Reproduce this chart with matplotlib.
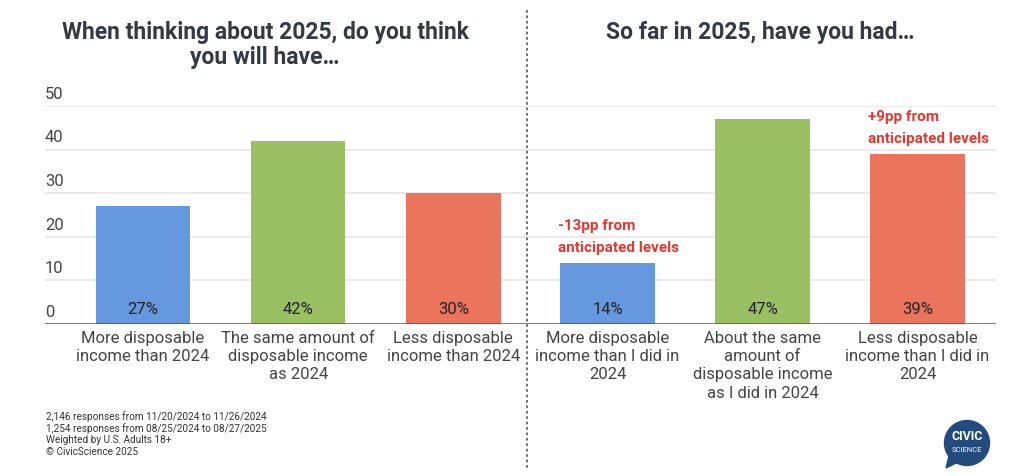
import numpy as np
import matplotlib
matplotlib.use("Agg")
import matplotlib.pyplot as plt
from matplotlib.lines import Line2D
from matplotlib.patches import Circle, Polygon
import matplotlib.transforms as mtransforms

plt.rcParams["font.family"] = ["Roboto", "DejaVu Sans"]

# Data
left_title = "When thinking about 2025, do you think\nyou will have…"
right_title = "So far in 2025, have you had…"
left_categories = ["More disposable\nincome than 2024",
                   "The same amount of\ndisposable income\nas 2024",
                   "Less disposable\nincome than 2024"]
right_categories = ["More disposable\nincome than I did in\n2024",
                    "About the same\namount of\ndisposable income\nas I did in 2024",
                    "Less disposable\nincome than I did in\n2024"]
left_values = [27, 42, 30]
right_values = [14, 47, 39]
annotate_idx = [0, 2]  # bars that get the "from anticipated levels" note
y_ticks = [0, 10, 20, 30, 40, 50]
footnotes = ["2,146 responses from 11/20/2024 to 11/26/2024",
             "1,254 responses from 08/25/2024 to 08/27/2025",
             "Weighted by U.S. Adults 18+",
             "© CivicScience 2025"]

BAR_COLORS = ["#6598df", "#9bc063", "#eb755c"]
TITLE_COLOR = "#333a45"
TEXT_COLOR = "#444444"
NOTE_COLOR = "#e8352e"
GRID_COLOR = "#e6e6e6"
BAR_WIDTH = 0.61

fig = plt.figure(figsize=(10.24, 4.76), dpi=100)
ax_l = fig.add_axes([45 / 1024, 1 - 324 / 476, 475 / 1024, 218 / 476])
ax_r = fig.add_axes([520 / 1024, 1 - 324 / 476, 476 / 1024, 218 / 476])


def draw_panel(ax, cats, values, xlim, show_yticks):
    x = np.arange(len(cats))
    ax.bar(x, values, width=BAR_WIDTH, color=BAR_COLORS, zorder=2)
    ax.set_xlim(*xlim)
    ax.set_ylim(0, 50)
    for t in y_ticks[1:]:
        ax.axhline(t, color=GRID_COLOR, linewidth=1.2, zorder=1)
    ax.axhline(0, color="#555555", linewidth=1.8, zorder=3)
    for s in ax.spines.values():
        s.set_visible(False)
    ax.set_yticks([])
    ax.set_xticks(x)
    ax.set_xticklabels(cats, fontsize=12, color=TEXT_COLOR, linespacing=1.27)
    ax.tick_params(axis="x", length=0, pad=5)
    for xi, v in zip(x, values):
        ax.annotate(f"{v}%", xy=(xi, 0), xytext=(0, 5), textcoords="offset points",
                    ha="center", va="bottom", fontsize=12, color="#222222", zorder=4)
    if show_yticks:
        trans = mtransforms.blended_transform_factory(ax.transAxes, ax.transData)
        for t in y_ticks:
            ax.annotate(str(t), xy=(0, t), xycoords=trans, xytext=(0, 3),
                        textcoords="offset points", ha="left", va="bottom",
                        fontsize=12, color=TEXT_COLOR)


draw_panel(ax_l, left_categories, left_values, (-0.632, 2.43), True)
draw_panel(ax_r, right_categories, right_values, (-0.565, 2.506), False)

# change vs anticipated levels
for i in annotate_idx:
    diff = right_values[i] - left_values[i]
    ax_r.annotate(f"{diff:+d}pp from\nanticipated levels",
                  xy=(i - BAR_WIDTH / 2, right_values[i]), xytext=(-2, 6),
                  textcoords="offset points", ha="left", va="bottom",
                  fontsize=11, fontweight="bold", color=NOTE_COLOR, linespacing=1.65)

fig.text(265 / 1024, 1 - 45 / 476, left_title, ha="center", va="center",
         fontsize=16.5, fontweight="bold", color=TITLE_COLOR, linespacing=1.15)
fig.text(760 / 1024, 1 - 32 / 476, right_title, ha="center", va="center",
         fontsize=16.5, fontweight="bold", color=TITLE_COLOR)

# dotted divider
fig.add_artist(Line2D([527 / 1024, 527 / 1024], [1 - 10 / 476, 1 - 470 / 476],
                      transform=fig.transFigure, color="#666666",
                      linestyle=(0, (1.5, 1.5)), linewidth=1.3))

fig.text(46 / 1024, 1 - 411 / 476, "\n".join(footnotes), ha="left", va="top",
         fontsize=7.2, color="#333333", linespacing=1.15)

# logo
lx, ly, lr = 967, 443, 22.5
ax_logo = fig.add_axes([0, 0, 1, 1], zorder=-1)
ax_logo.set_xlim(0, 1024)
ax_logo.set_ylim(476, 0)
ax_logo.axis("off")
ax_logo.add_patch(Circle((lx, ly), lr, color="#234a7c"))
ax_logo.add_patch(Polygon([[950, 452], [946, 468], [962, 460]], color="#234a7c"))
ax_logo.text(lx, ly - 6, "CIVIC", ha="center", va="center", fontsize=9,
             fontweight="bold", color="white")
ax_logo.text(lx, ly + 7, "SCIENCE", ha="center", va="center", fontsize=5.5,
             color="white")

fig.savefig("out.png", dpi=100)
